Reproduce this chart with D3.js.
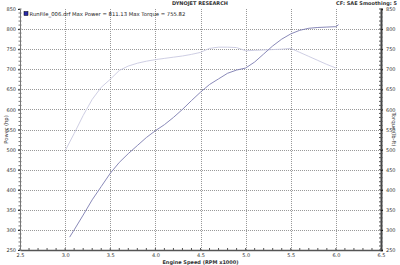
<!DOCTYPE html>
<html>
<head>
<meta charset="utf-8">
<script src="https://cdn.jsdelivr.net/npm/d3@7"></script>
<style>
  body { margin: 0; background: #fff; }
  text { font-family: "DejaVu Sans", sans-serif; }
</style>
</head>
<body>
<script>
const width = 400;
const height = 265;
const margin = { top: 9, right: 19, bottom: 15, left: 20 };

// rpm x1000
const powerRpm = [3.05, 3.1, 3.2, 3.3, 3.4, 3.5, 3.6, 3.7, 3.8, 3.9, 4.0, 4.1, 4.2, 4.3, 4.4, 4.5,
  4.6, 4.7, 4.8, 4.9, 5.0, 5.1, 5.2, 5.3, 5.4, 5.5, 5.6, 5.7, 5.8, 5.9, 6.0, 6.03];
const power = [282, 300, 337, 375, 408, 441, 468, 490, 510, 530, 547, 562, 580, 600, 622, 643,
  662, 676, 690, 698, 703, 718, 738, 758, 775, 788, 797, 802, 804, 805, 806, 811];

const torqueRpm = [3.0, 3.1, 3.2, 3.3, 3.4, 3.5, 3.6, 3.7, 3.8, 3.9, 4.0, 4.1, 4.2, 4.3, 4.4, 4.5,
  4.6, 4.7, 4.8, 4.9, 5.0, 5.1, 5.2, 5.3, 5.4, 5.5, 5.6, 5.7, 5.8, 5.9, 6.0];
const torque = [497, 540, 585, 625, 655, 675, 697, 708, 715, 720, 724, 727, 730, 733, 737, 742,
  752, 755, 755, 754, 746, 747, 748, 749, 750, 752, 742, 732, 722, 712, 703];

const xTicks = [2.5, 3.0, 3.5, 4.0, 4.5, 5.0, 5.5, 6.0, 6.5];
const yTicks = [250, 300, 350, 400, 450, 500, 550, 600, 650, 700, 750, 800, 850];

const svg = d3.select("body").append("svg")
  .attr("width", width)
  .attr("height", height);

const x = d3.scaleLinear().domain([2.5, 6.5]).range([margin.left, width - margin.right]);
const y = d3.scaleLinear().domain([250, 850]).range([height - margin.bottom, margin.top]);

// grid
svg.append("g").selectAll("line").data(yTicks.slice(1, -1)).join("line")
  .attr("x1", x(2.5)).attr("x2", x(6.5))
  .attr("y1", d => Math.round(y(d)) + 0.5).attr("y2", d => Math.round(y(d)) + 0.5)
  .attr("stroke", "#999").attr("stroke-dasharray", "1,1");
svg.append("g").selectAll("line").data(xTicks.slice(1, -1)).join("line")
  .attr("x1", d => Math.round(x(d)) + 0.5).attr("x2", d => Math.round(x(d)) + 0.5)
  .attr("y1", y(850)).attr("y2", y(250))
  .attr("stroke", "#999").attr("stroke-dasharray", "1,1");

// axes
const xAxis = d3.axisBottom(x).tickValues(xTicks).tickFormat(d3.format(".1f")).tickSize(0).tickPadding(3);
svg.append("g")
  .attr("transform", `translate(0,${y(250)})`)
  .call(xAxis)
  .call(g => g.select(".domain").attr("stroke", "#555").attr("stroke-width", 1.5))
  .call(g => g.selectAll("text").attr("font-size", 5).attr("fill", "#333"));
svg.append("g")
  .attr("transform", `translate(0,${y(250)})`)
  .selectAll("line").data(d3.range(25, 66).map(d => d / 10)).join("line")
  .attr("x1", d => x(d)).attr("x2", d => x(d))
  .attr("y1", 0).attr("y2", -2)
  .attr("stroke", "#555");

const yAxisL = d3.axisLeft(y).tickValues(yTicks).tickSize(2).tickPadding(2);
svg.append("g")
  .attr("transform", `translate(${x(2.5)},0)`)
  .call(yAxisL)
  .call(g => g.select(".domain").attr("stroke", "#777"))
  .call(g => g.selectAll("text").attr("font-size", 5).attr("fill", "#333"));
svg.append("g").selectAll("line").data(d3.range(250, 851, 10)).join("line")
  .attr("x1", x(2.5) - 1.5).attr("x2", x(2.5) + 1.5)
  .attr("y1", d => y(d)).attr("y2", d => y(d))
  .attr("stroke", "#777");

const yAxisR = d3.axisRight(y).tickValues(yTicks).tickSize(2).tickPadding(3);
svg.append("g")
  .attr("transform", `translate(${x(6.5)},0)`)
  .call(yAxisR)
  .call(g => g.select(".domain").attr("stroke", "#444").attr("stroke-width", 2))
  .call(g => g.selectAll("text").attr("font-size", 5).attr("fill", "#333"));
svg.append("g").selectAll("line").data(d3.range(250, 851, 10)).join("line")
  .attr("x1", x(6.5) - 2).attr("x2", x(6.5) + 1.5)
  .attr("y1", d => y(d)).attr("y2", d => y(d))
  .attr("stroke", "#555");

// lines
const line = d3.line().x(d => x(d[0])).y(d => y(d[1]));
svg.append("path")
  .datum(d3.zip(torqueRpm, torque))
  .attr("fill", "none").attr("stroke", "#c8c8e0").attr("stroke-width", 0.9)
  .attr("d", line);
svg.append("path")
  .datum(d3.zip(powerRpm, power))
  .attr("fill", "none").attr("stroke", "#7c7cb0").attr("stroke-width", 0.9)
  .attr("d", line);

// texts
svg.append("text").attr("x", 200).attr("y", 5).attr("text-anchor", "middle")
  .attr("font-size", 5).attr("font-weight", "bold").attr("fill", "#333")
  .text("DYNOJET RESEARCH");
svg.append("text").attr("x", 397).attr("y", 5).attr("text-anchor", "end")
  .attr("font-size", 5).attr("font-weight", "bold").attr("fill", "#333")
  .text("CF: SAE  Smoothing: 5");

svg.append("rect").attr("x", 24).attr("y", 11.5).attr("width", 4).attr("height", 4)
  .attr("fill", "#2a2aa8").attr("stroke", "#000").attr("stroke-width", 0.5);
svg.append("text").attr("x", 29.5).attr("y", 16)
  .attr("font-size", 5.3).attr("fill", "#222")
  .text("RunFile_006.drf Max Power = 811.13    Max Torque = 755.82");

svg.append("text").attr("transform", `translate(8,${(y(250) + y(850)) / 2}) rotate(-90)`)
  .attr("text-anchor", "middle").attr("font-size", 5.3).attr("fill", "#333")
  .text("Power (hp)");
svg.append("text").attr("transform", `translate(392,${(y(250) + y(850)) / 2}) rotate(90)`)
  .attr("text-anchor", "middle").attr("font-size", 5.3).attr("fill", "#333")
  .text("Torque (lb-ft)");
svg.append("text").attr("x", (x(2.5) + x(6.5)) / 2).attr("y", 264).attr("text-anchor", "middle")
  .attr("font-size", 5).attr("font-weight", "bold").attr("fill", "#333")
  .text("Engine Speed (RPM x1000)");
</script>
</body>
</html>
